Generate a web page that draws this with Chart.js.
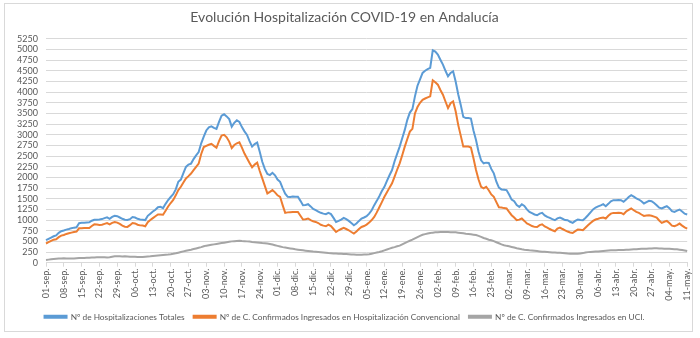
<!DOCTYPE html>
<html>
<head>
<meta charset="utf-8">
<script src="https://cdn.jsdelivr.net/npm/chart.js@4/dist/chart.umd.min.js"></script>
<style>
html,body{margin:0;padding:0;background:#fff;}
#wrap{width:700px;height:338px;position:relative;}
</style>
</head>
<body>
<div id="wrap"><canvas id="c" width="700" height="338"></canvas></div>
<script>
const title = 'Evolución Hospitalización COVID-19 en Andalucía';
const seriesNames = [
  'Nº de Hospitalizaciones Totales',
  'Nº de C. Confirmados Ingresados en Hospitalización Convencional',
  'Nº de C. Confirmados Ingresados en UCI.'
];
const monthNames = ['sep','oct','nov','dic','ene','feb','mar','abr','may'];
const monthLengths = [30,31,30,31,31,28,31,30,11];
const tickLabels = ['01-sep.','08-sep.','15-sep.','22-sep.','29-sep.','06-oct.','13-oct.','20-oct.','27-oct.','03-nov.','10-nov.','17-nov.','24-nov.','01-dic.','08-dic.','15-dic.','22-dic.','29-dic.','05-ene.','12-ene.','19-ene.','26-ene.','02-feb.','09-feb.','16-feb.','23-feb.','02-mar.','09-mar.','16-mar.','23-mar.','30-mar.','06-abr.','13-abr.','20-abr.','27-abr.','04-may.','11-may.'];

const hospTotales = [
  528,560,590,620,640,700,737,
  755,775,790,810,822,830,925,
  935,938,942,946,985,1008,1010,
  1012,1023,1045,1062,1030,1075,1100,
  1090,1060,1030,1008,1000,1020,1070,
  1060,1030,1015,1008,1000,1100,1150,
  1200,1240,1300,1310,1280,1380,1470,
  1540,1604,1720,1898,1950,2100,2246,
  2300,2324,2430,2517,2594,2800,2958,
  3100,3175,3198,3160,3136,3300,3446,
  3480,3430,3366,3190,3280,3340,3300,
  3180,3080,2997,2850,2722,2780,2816,
  2600,2368,2200,2080,2055,2109,2050,
  1950,1897,1750,1620,1545,1540,1550,
  1545,1545,1450,1349,1355,1372,1320,
  1260,1231,1200,1170,1150,1137,1168,
  1140,1050,956,980,1010,1050,1020,
  980,930,878,920,980,1036,1060,
  1090,1150,1230,1349,1450,1560,1680,
  1780,1920,2050,2173,2380,2550,2722,
  2920,3114,3350,3520,3602,3900,4150,
  4300,4449,4500,4540,4567,4981,4950,
  4880,4760,4645,4500,4369,4450,4487,
  4250,3950,3700,3420,3390,3390,3380,
  3100,2879,2600,2400,2330,2346,2340,
  2200,2095,1900,1760,1718,1710,1702,
  1600,1480,1440,1350,1310,1372,1330,
  1250,1191,1160,1130,1113,1150,1168,
  1110,1073,1050,1020,996,1040,1058,
  1030,1000,996,960,933,980,1011,
  1000,996,1050,1113,1180,1250,1294,
  1320,1345,1372,1325,1380,1440,1467,
  1467,1470,1467,1427,1480,1540,1584,
  1550,1510,1482,1440,1389,1420,1451,
  1440,1400,1349,1290,1271,1300,1325,
  1280,1210,1191,1220,1246,1200,1150,1130
];
const hospConvencional = [
  450,480,510,540,550,600,636,
  650,675,690,705,721,730,806,
  810,812,813,814,860,900,895,
  885,890,910,930,900,935,953,
  940,910,870,845,840,880,930,
  920,890,875,870,853,950,1000,
  1046,1090,1130,1128,1124,1220,1317,
  1400,1472,1580,1704,1780,1880,1975,
  2030,2091,2170,2246,2323,2550,2711,
  2740,2765,2788,2740,2695,2850,2982,
  2997,2940,2840,2687,2760,2800,2825,
  2700,2560,2448,2340,2236,2300,2345,
  2150,1977,1800,1624,1660,1702,1650,
  1580,1545,1350,1168,1180,1185,1190,
  1191,1191,1100,1012,1020,1036,1000,
  970,956,930,890,870,854,894,
  860,790,720,760,790,815,790,
  760,720,682,730,790,838,860,
  894,940,1000,1073,1180,1300,1420,
  1545,1650,1760,1860,2020,2180,2330,
  2520,2722,2900,3075,3138,3500,3650,
  3750,3820,3850,3875,3900,4275,4230,
  4174,4050,3938,3780,3625,3740,3781,
  3550,3232,2980,2722,2722,2722,2700,
  2450,2173,1950,1780,1742,1781,1700,
  1600,1545,1420,1300,1294,1280,1271,
  1190,1113,1060,996,1010,1036,980,
  920,894,860,840,838,880,901,
  850,824,790,760,737,800,824,
  790,760,730,710,697,740,776,
  770,760,820,878,930,980,1012,
  1030,1050,1059,1036,1100,1150,1168,
  1168,1170,1168,1137,1200,1240,1271,
  1230,1190,1168,1130,1097,1105,1113,
  1100,1080,1059,990,933,960,980,
  930,870,854,880,917,870,830,800
];
const uci = [
  65,72,80,86,92,96,100,
  102,100,98,97,100,104,108,
  110,112,114,116,120,124,128,
  130,128,125,122,130,140,150,
  152,150,148,150,146,142,140,
  140,136,132,135,140,145,150,
  158,165,170,175,180,185,190,
  198,208,220,235,250,265,280,
  292,305,320,335,350,365,385,
  400,410,420,430,440,450,460,
  470,480,490,500,505,510,515,
  508,505,500,495,485,480,475,
  470,461,455,450,440,425,410,
  395,380,365,355,345,335,325,
  313,305,298,290,282,275,268,
  260,255,250,245,238,232,226,
  222,218,215,212,208,205,202,
  198,194,190,185,186,188,190,
  192,200,212,225,238,252,270,
  290,310,330,350,365,385,400,
  430,460,490,515,540,570,600,
  630,655,670,685,695,705,712,
  716,718,720,720,718,716,714,
  712,705,698,690,680,672,665,
  658,650,630,605,580,560,540,
  525,505,480,455,430,410,395,
  384,370,355,340,328,316,306,
  298,290,284,278,272,265,259,
  255,250,246,242,238,235,232,
  228,222,216,212,210,210,212,
  218,225,240,248,252,256,260,
  265,270,275,280,285,290,292,
  294,296,298,300,303,306,310,
  314,318,322,325,328,330,333,
  335,336,336,335,333,330,328,
  325,322,318,314,306,298,288,275
];

const categories = [];
monthNames.forEach((m, mi) => {
  for (let d = 1; d <= monthLengths[mi]; d++) {
    categories.push(String(d).padStart(2, '0') + '-' + m + '.');
  }
});

const FONT = "'Lato', sans-serif";
const TXT = '#595959';
const GRID = '#d9d9d9';

const borderPlugin = {
  id: 'frame',
  beforeDraw(chart) {
    const ctx = chart.ctx;
    ctx.save();
    ctx.fillStyle = '#fff';
    ctx.fillRect(0, 0, chart.width, chart.height);
    ctx.strokeStyle = GRID;
    ctx.lineWidth = 1;
    ctx.strokeRect(4.5, 3.5, 688, 328);
    ctx.restore();
  }
};

const ds = (label, data, color) => ({
  label, data, borderColor: color, backgroundColor: color,
  borderWidth: 2, pointRadius: 0, tension: 0, fill: false
});

new Chart(document.getElementById('c'), {
  type: 'line',
  data: {
    labels: categories,
    datasets: [
      ds(seriesNames[0], hospTotales, '#5B9BD5'),
      ds(seriesNames[1], hospConvencional, '#ED7D31'),
      ds(seriesNames[2], uci, '#A5A5A5')
    ]
  },
  options: {
    responsive: false,
    animation: false,
    layout: { padding: { left: 0, right: 11, top: 0, bottom: 7 } },
    plugins: {
      title: {
        display: true, text: title, color: TXT,
        font: { family: FONT, size: 14, weight: 'normal' },
        padding: { top: 9, bottom: 13 }
      },
      legend: {
        position: 'bottom',
        labels: {
          color: TXT, boxWidth: 22, boxHeight: 2, padding: 9,
          font: { family: FONT, size: 8.3 }
        }
      },
      tooltip: { enabled: false }
    },
    scales: {
      x: {
        type: 'category',
        afterFit(s) { s.height = 41; },
        grid: { display: true, drawOnChartArea: false, drawTicks: true, tickLength: 4, color: GRID },
        border: { color: GRID },
        ticks: {
          autoSkip: false, minRotation: 90, maxRotation: 90, padding: 2,
          color: TXT, font: { family: FONT, size: 9 },
          callback(v, i) { return i % 7 === 0 ? tickLabels[i / 7] : null; }
        }
      },
      y: {
        min: 0, max: 5250,
        afterFit(s) { s.width = 46; },
        grid: { color: GRID, drawTicks: false },
        border: { display: false },
        ticks: {
          stepSize: 250, autoSkip: false, maxTicksLimit: 40, padding: 8, color: TXT,
          font: { family: FONT, size: 9 },
          callback(v) { return String(v); }
        }
      }
    }
  },
  plugins: [borderPlugin]
});
</script>
</body>
</html>
